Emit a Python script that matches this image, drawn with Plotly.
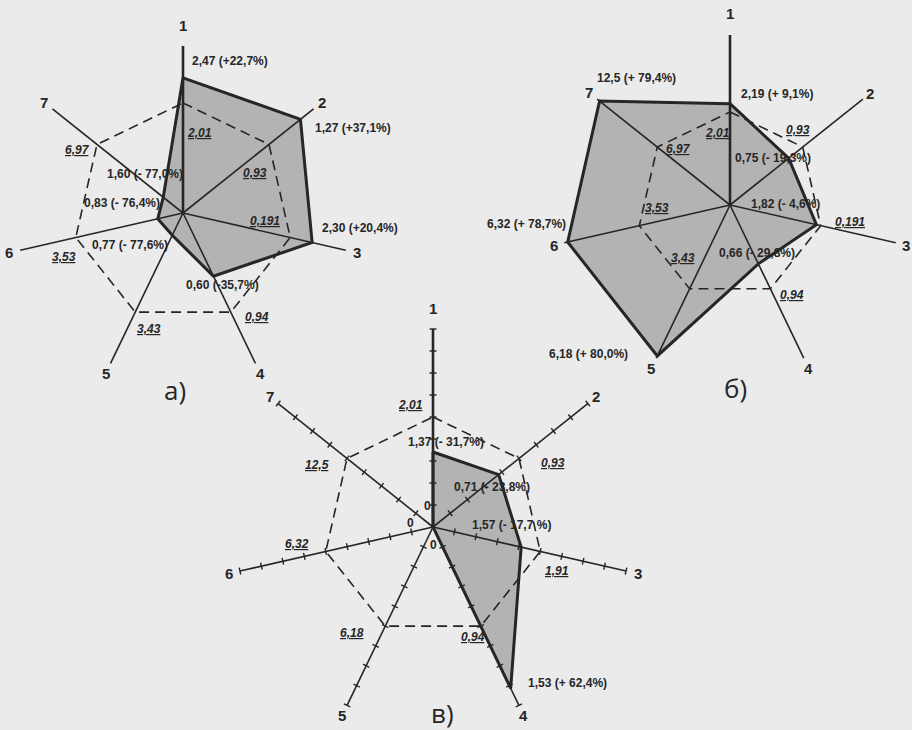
import numpy as np
import plotly.graph_objects as go

# ---- data -------------------------------------------------------------
axis_names = ["1", "2", "3", "4", "5", "6", "7"]

# a) base (dashed) and current values
base_a = [2.01, 0.93, 1.91, 0.94, 3.43, 3.53, 6.97]
base_a_text = ["2,01", "0,93", "0,191", "0,94", "3,43", "3,53", "6,97"]
vals_a = [2.47, 1.27, 2.30, 0.60, 0.77, 0.83, 1.60]
vals_a_text = ["2,47 (+22,7%)", "1,27 (+37,1%)", "2,30 (+20,4%)", "0,60 (-35,7%)",
               "0,77 (- 77,6%)", "0,83 (- 76,4%)", "1,60 (- 77,0%)"]

# б)
base_b = [2.01, 0.93, 1.91, 0.94, 3.43, 3.53, 6.97]
base_b_text = ["2,01", "0,93", "0,191", "0,94", "3,43", "3,53", "6,97"]
vals_b = [2.19, 0.75, 1.82, 0.66, 6.18, 6.32, 12.5]
vals_b_text = ["2,19 (+ 9,1%)", "0,75 (- 19,3%)", "1,82 (- 4,6%)", "0,66 (- 29,8%)",
               "6,18 (+ 80,0%)", "6,32 (+ 78,7%)", "12,5 (+ 79,4%)"]

# в)
base_c = [2.01, 0.93, 1.91, 0.94, 6.18, 6.32, 12.5]
base_c_text = ["2,01", "0,93", "1,91", "0,94", "6,18", "6,32", "12,5"]
vals_c = [1.37, 0.71, 1.57, 1.53, 0, 0, 0]
vals_c_text = ["1,37 (- 31,7%)", "0,71 (- 23,8%)", "1,57 (- 17,7 %)", "1,53 (+ 62,4%)",
               "0", "0", "0"]

# ---- layout of the three diagrams (page pixels) -----------------------
W, H = 912, 730
N = len(axis_names)
ang = np.deg2rad(90 - np.arange(N) * 360 / N)

charts = [
    dict(base=base_a, base_text=base_a_text, vals=vals_a, vals_text=vals_a_text,
         caption="а)", center=(183, 213), r_ref=110, length=167, ticks=0,
         gaps=[21, 11, 11, 11, 11, 11, 11], cap_off=(-8, 177),
         ref_off=[(16, 30), (-14, 29), (-25, -16), (26, 5), (14, 17), (-12, 20), (-20, 6)],
         val_off=[(47, -17), (53, 9), (48, -14), (9, 9), (-42, 10), (-36, -16), (-18, -23)]),
    dict(base=base_b, base_text=base_b_text, vals=vals_b, vals_text=vals_b_text,
         caption="б)", center=(730, 205), r_ref=93, length=170, ticks=0,
         gaps=[22, 9, 11, 11, 11, 11, 10], cap_off=(5, 183),
         ref_off=[(-13, 21), (-5, -17), (29, -4), (22, 6), (-7, -31), (18, -18), (21, 2)],
         val_off=[(47, -10), (-16, 0), (-31, -21), (-1, -11), (-69, -2), (-41, -18), (37, -23)]),
    dict(base=base_c, base_text=base_c_text, vals=vals_c, vals_text=vals_c_text,
         caption="в)", center=(433, 527), r_ref=110, length=198, ticks=9,
         gaps=[21, 11, 12, 11, 11, 11, 11], cap_off=(9, 186),
         ref_off=[(-23, -12), (34, 5), (17, 20), (-8, 11), (-33, 7), (-29, -7), (-30, 7)],
         val_off=[(13, -10), (-7, 12), (-10, -22), (57, -5), (0, 18), (-23, -4), (-6, -21)]),
]

INK = "#262626"
FILL = "#b3b3b3"
BG = "#ebebeb"
FONT = "Liberation Sans"


def to_xy(ch, r):
    cx, cy = ch["center"]
    r = np.asarray(r, dtype=float)
    return cx + r * np.cos(ang), cy - r * np.sin(ang)


def closed(a):
    return list(a) + [a[0]]


fig = go.Figure()
ann = []

for ch in charts:
    cx, cy = ch["center"]
    L = ch["length"]
    r_cur = np.array(ch["vals"]) / np.array(ch["base"]) * ch["r_ref"]
    r_base = np.full(N, ch["r_ref"], dtype=float)
    px, py = to_xy(ch, r_cur)
    bx, by = to_xy(ch, r_base)
    ex, ey = to_xy(ch, np.full(N, L, dtype=float))

    # shaded polygon of current values
    fig.add_trace(go.Scatter(x=closed(px), y=closed(py), mode="lines", fill="toself",
                             fillcolor=FILL, line=dict(width=0, color=FILL),
                             hoverinfo="skip"))

    # axes
    xs, ys = [], []
    for k in range(1, N):
        xs += [cx, ex[k], None]
        ys += [cy, ey[k], None]
    fig.add_trace(go.Scatter(x=xs, y=ys, mode="lines", line=dict(color=INK, width=1.6),
                             hoverinfo="skip"))
    fig.add_trace(go.Scatter(x=[cx, ex[0]], y=[cy, ey[0]], mode="lines",
                             line=dict(color=INK, width=2.6), hoverinfo="skip"))

    # tick marks
    if ch["ticks"]:
        step = L / ch["ticks"]
        tx, ty = [], []
        for k in range(N):
            ux, uy = np.cos(ang[k]), -np.sin(ang[k])
            nx, ny = -uy, ux
            for j in range(1, ch["ticks"] + 1):
                mx, my = cx + ux * step * j, cy + uy * step * j
                tx += [mx - nx * 3.5, mx + nx * 3.5, None]
                ty += [my - ny * 3.5, my + ny * 3.5, None]
        fig.add_trace(go.Scatter(x=tx, y=ty, mode="lines", line=dict(color=INK, width=1.4),
                                 hoverinfo="skip"))

    # dashed base polygon
    fig.add_trace(go.Scatter(x=closed(bx), y=closed(by), mode="lines",
                             line=dict(color=INK, width=1.6, dash="10px,6px"),
                             hoverinfo="skip"))

    # outline of the current polygon
    fig.add_trace(go.Scatter(x=closed(px), y=closed(py), mode="lines",
                             line=dict(color=INK, width=3), hoverinfo="skip"))

    # axis numbers
    lx, ly = to_xy(ch, np.array(ch["gaps"]) + L)
    for k in range(N):
        ann.append(dict(x=lx[k], y=ly[k], text="<b>%s</b>" % axis_names[k],
                        font=dict(size=15, color=INK, family=FONT)))

    # base value labels (underlined italic)
    for k in range(N):
        dx, dy = ch["ref_off"][k]
        ann.append(dict(x=bx[k], y=by[k], xshift=dx, yshift=-dy,
                        text="<b><i><u>%s</u></i></b>" % ch["base_text"][k],
                        font=dict(size=12, color=INK, family=FONT)))

    # current value labels
    for k in range(N):
        dx, dy = ch["val_off"][k]
        ann.append(dict(x=px[k], y=py[k], xshift=dx, yshift=-dy,
                        text="<b>%s</b>" % ch["vals_text"][k],
                        font=dict(size=12, color=INK, family=FONT)))

    ann.append(dict(x=cx, y=cy, xshift=ch["cap_off"][0], yshift=-ch["cap_off"][1],
                    text=ch["caption"], font=dict(size=26, color=INK, family="Open Sans")))

for a in ann:
    a["showarrow"] = False

fig.update_layout(
    width=W, height=H,
    margin=dict(l=0, r=0, t=0, b=0),
    paper_bgcolor=BG, plot_bgcolor=BG,
    showlegend=False,
    xaxis=dict(range=[0, W], visible=False, fixedrange=True),
    yaxis=dict(range=[H, 0], visible=False, fixedrange=True),
    annotations=ann,
)

# drop the default page margin so the figure fills the window
fig.write_html("out.html", config=dict(displayModeBar=False),
               post_script="document.body.style.margin='0';"
                           "document.body.style.background='%s';" % BG)
